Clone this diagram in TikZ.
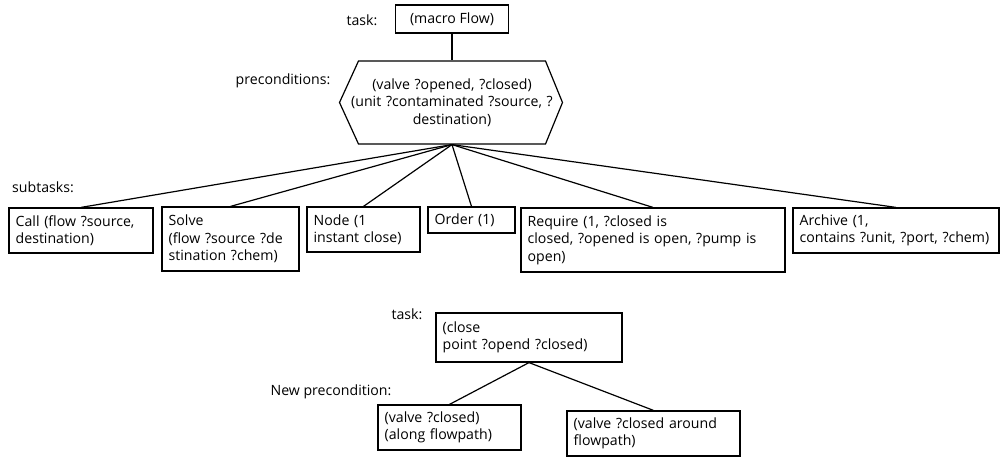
\documentclass[tikz,border=0pt]{standalone}
\usepackage{fontspec}
\setmainfont{Open Sans}

\begin{document}
\begin{tikzpicture}[x=0.75pt,y=-0.75pt,line width=0.9pt]
\tikzstyle{every node}=[font=\fontsize{10.6}{13}\selectfont]
\tikzstyle{subbox}=[draw, align=left, inner xsep=5pt, inner ysep=1pt]
\tikzstyle{lbl}=[inner sep=0pt]
\useasboundingbox (0,0) rectangle (1001,457);
% top task and preconditions
\draw (362,20) node (tasklbl) [lbl] {task:};
\draw (452,19) node (macro) [draw, minimum width=84.75pt, minimum height=21pt, inner sep=1pt] {(macro Flow)};
\draw (283,81) node (prelbl) [lbl] {preconditions:};
\draw (452,102.5) node (pre) [text width=160pt, minimum height=62.25pt, inner sep=0pt, align=center] {(valve ?opened, ?closed)\\(unit ?contaminated ?source, ?\\destination)};
\draw (pre.center) ++(-93.5,-41.5) -- ++(187,0) -- ++(17,41.5) -- ++(-17,41.5) -- ++(-187,0) -- ++(-19,-41.5) -- cycle;
\draw (macro) -- (pre);
% subtasks
\draw (43,187) node (sublbl) [lbl] {subtasks:};
\draw (81,230.5) node (call) [subbox, text width=98pt, minimum height=33.75pt] {Call (flow ?source,\\destination)};
\draw (230.5,239) node (solve) [subbox, text width=92.75pt, minimum height=48pt] {Solve\\(flow ?source ?de\\stination ?chem)};
\draw (363.5,229.5) node (nodeb) [subbox, text width=74.75pt, minimum height=33.75pt] {Node (1\\instant close)};
\draw (471.5,220) node (order) [subbox, text width=55.25pt, minimum height=19.5pt] {Order (1)};
\draw (653,240) node (require) [subbox, text width=188pt, minimum height=48pt] {Require (1, ?closed is\\closed, ?opened is open, ?pump is\\open)};
\draw (896,230.5) node (archive) [subbox, text width=144.5pt, minimum height=33.75pt] {Archive (1,\\contains ?unit, ?port, ?chem)};
\draw (pre.south) -- (call.north);
\draw (pre.south) -- (solve.north);
\draw (pre.south) -- (nodeb.north);
\draw (pre.south) -- (order.north);
\draw (pre.south) -- (require.north);
\draw (pre.south) -- (archive.north);
% close point task
\draw (407,314) node (closelbl) [lbl] {task:};
\draw (529,337.5) node (close) [subbox, text width=129.5pt, minimum height=36.75pt] {(close\\point ?opend ?closed)};
\draw (331,392) node (newlbl) [lbl] {New precondition:};
\draw (449.5,427.5) node (along) [subbox, text width=97.25pt, minimum height=33.75pt] {(valve ?closed)\\(along flowpath)};
\draw (653.5,433.5) node (around) [subbox, text width=119.75pt, minimum height=33.75pt] {(valve ?closed around\\flowpath)};
\draw (close.south) -- (along.north);
\draw (close.south) -- (around.north);
\end{tikzpicture}
\end{document}
